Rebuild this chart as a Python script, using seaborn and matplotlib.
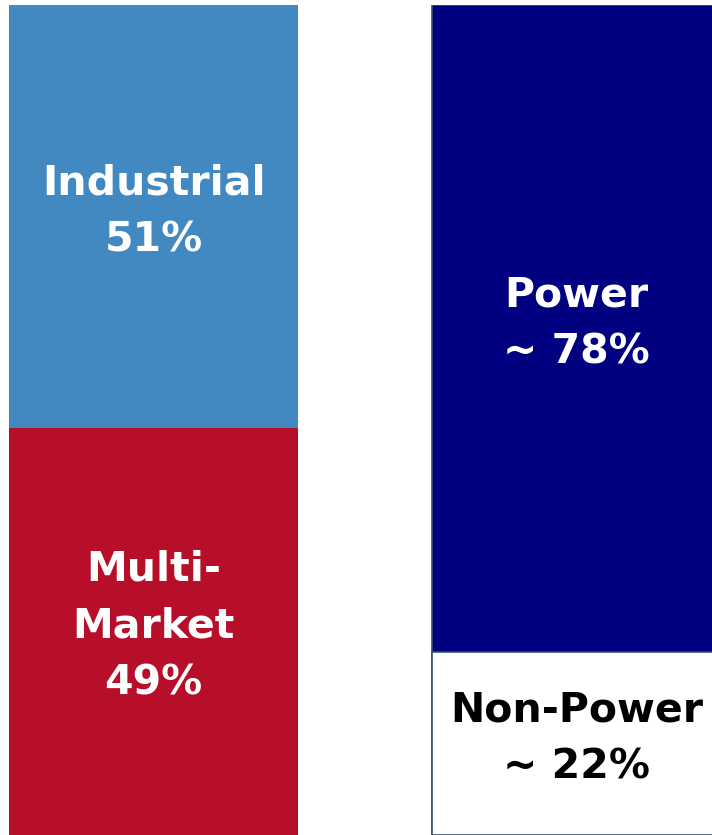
import matplotlib
matplotlib.use('Agg')
import matplotlib.pyplot as plt
import seaborn as sns
import pandas as pd

# dados
grupos = ['Segmento', 'Mercado']
topo_nomes = ['Industrial\n51%', 'Power\n~ 78%']
topo_valores = [51, 78]
base_nomes = ['Multi-\nMarket\n49%', 'Non-Power\n~ 22%']
base_valores = [49, 22]

cor_topo = ['#4288C1', '#000080']
cor_base = ['#B70F29', '#FFFFFF']
cor_texto_base = ['white', 'black']

sns.set_style('white')
plt.rcParams['font.family'] = ['DejaVu Sans']

fig = plt.figure(figsize=(7.12, 8.35), dpi=100)
ax = fig.add_axes([0, 0, 1, 1 - 5 / 835])

total = [t + b for t, b in zip(topo_valores, base_valores)]
df_total = pd.DataFrame({'grupo': grupos, 'valor': total})
df_base = pd.DataFrame({'grupo': grupos, 'valor': base_valores})

# barra inteira com a cor de cima, depois a parte de baixo por cima
sns.barplot(data=df_total, x='grupo', y='valor', hue='grupo', palette=cor_topo,
            legend=False, width=0.683, ax=ax, saturation=1)
sns.barplot(data=df_base, x='grupo', y='valor', hue='grupo', palette=cor_base,
            legend=False, width=0.683, ax=ax, saturation=1)

# borda fina so na barra da direita
for p in ax.patches:
    if p.get_x() > 0.5:
        p.set_edgecolor('#34506E')
        p.set_linewidth(1.2)
    else:
        p.set_linewidth(0)

# rotulos
for i in range(len(grupos)):
    ax.text(i, base_valores[i] + topo_valores[i] / 2 + 0.6, topo_nomes[i], ha='center', va='center',
            color='white', fontsize=29.5, fontweight='bold', linespacing=1.55)
    ax.text(i, base_valores[i] / 2 + 0.6, base_nomes[i], ha='center', va='center',
            color=cor_texto_base[i], fontsize=29.5, fontweight='bold', linespacing=1.55)

ax.set_xlim(-0.363, 1.320)
ax.set_ylim(0, 100)
ax.axis('off')

plt.savefig('out.png', dpi=100)
